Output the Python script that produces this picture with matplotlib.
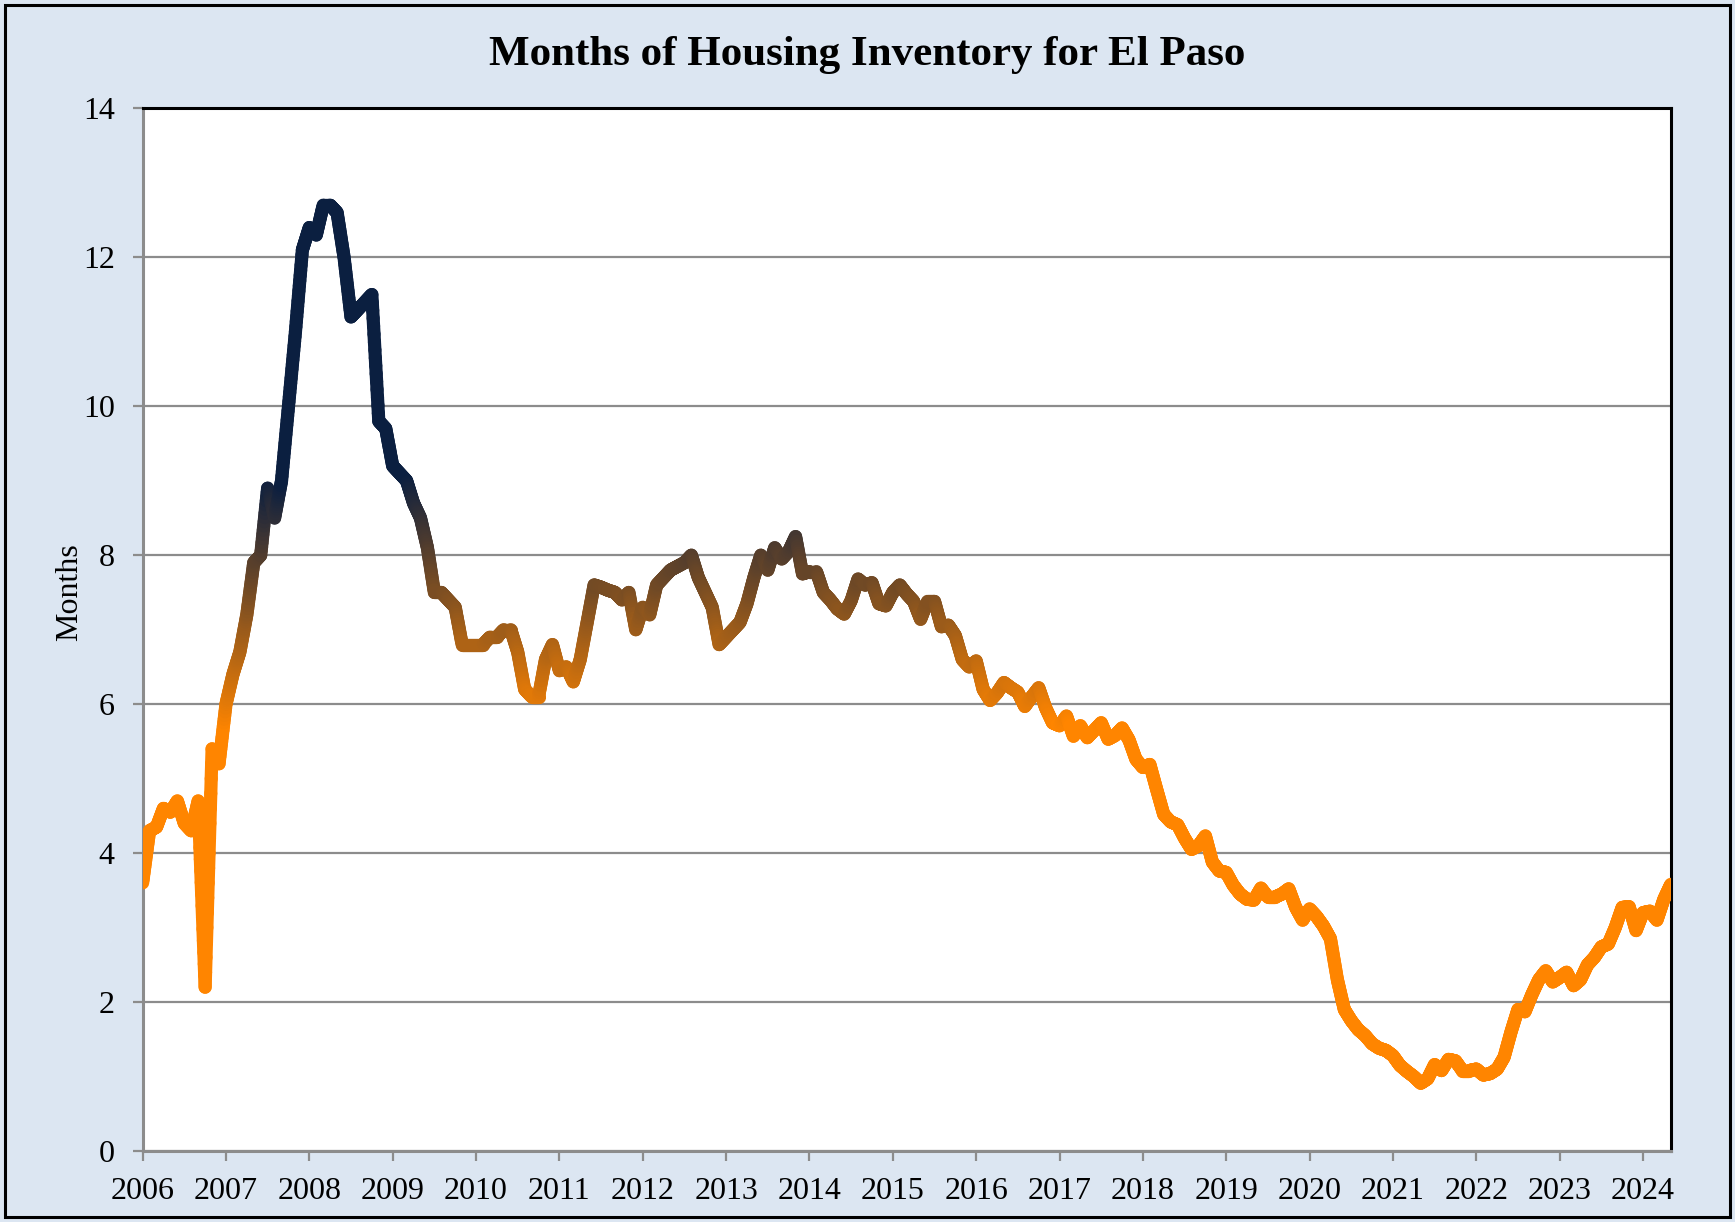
import numpy as np
import matplotlib
matplotlib.use('Agg')
import matplotlib.pyplot as plt
from matplotlib.collections import LineCollection
from matplotlib.colors import LinearSegmentedColormap, Normalize
from matplotlib.patches import Rectangle

# Monthly months-of-inventory, Jan 2006 .. May 2024
start_year = 2006
inventory = [
    3.6, 4.3, 4.35, 4.6, 4.55, 4.7, 4.4, 4.3, 4.7, 2.2, 5.4, 5.2,          # 2006
    6.0, 6.4, 6.7, 7.2, 7.9, 8.0, 8.9, 8.5, 9.0, 10.0, 11.0, 12.1,        # 2007
    12.4, 12.3, 12.7, 12.7, 12.6, 12.0, 11.2, 11.3, 11.4, 11.5, 9.8, 9.7,  # 2008
    9.2, 9.1, 9.0, 8.7, 8.5, 8.1, 7.5, 7.5, 7.4, 7.3, 6.8, 6.8,           # 2009
    6.8, 6.8, 6.9, 6.9, 7.0, 7.0, 6.7, 6.2, 6.1, 6.1, 6.6, 6.8,           # 2010
    6.45, 6.5, 6.3, 6.6, 7.1, 7.6, 7.57, 7.53, 7.5, 7.4, 7.5, 7.0,        # 2011
    7.3, 7.2, 7.6, 7.7, 7.8, 7.85, 7.9, 8.0, 7.7, 7.5, 7.3, 6.8,          # 2012
    6.9, 7.0, 7.1, 7.35, 7.7, 8.0, 7.8, 8.1, 7.95, 8.05, 8.25, 7.75,      # 2013
    7.78, 7.78, 7.5, 7.4, 7.28, 7.21, 7.39, 7.68, 7.6, 7.63, 7.35, 7.32,  # 2014
    7.5, 7.6, 7.48, 7.38, 7.14, 7.38, 7.38, 7.04, 7.06, 6.92, 6.6, 6.5,   # 2015
    6.58, 6.2, 6.05, 6.15, 6.29, 6.22, 6.16, 5.97, 6.1, 6.22, 5.95, 5.75, # 2016
    5.71, 5.84, 5.57, 5.71, 5.55, 5.65, 5.75, 5.53, 5.58, 5.68, 5.52, 5.26,  # 2017
    5.15, 5.19, 4.85, 4.52, 4.42, 4.38, 4.2, 4.05, 4.1, 4.23, 3.88, 3.76, # 2018
    3.74, 3.57, 3.45, 3.38, 3.37, 3.53, 3.41, 3.41, 3.45, 3.52, 3.27, 3.1,  # 2019
    3.25, 3.15, 3.02, 2.85, 2.3, 1.9, 1.75, 1.63, 1.55, 1.44, 1.38, 1.35, # 2020
    1.28, 1.15, 1.07, 1.0, 0.91, 0.97, 1.16, 1.08, 1.23, 1.21, 1.08, 1.08,  # 2021
    1.1, 1.02, 1.04, 1.1, 1.26, 1.6, 1.9, 1.87, 2.1, 2.3, 2.42, 2.27,     # 2022
    2.33, 2.4, 2.22, 2.3, 2.5, 2.6, 2.74, 2.78, 3.0, 3.27, 3.28, 2.96,    # 2023
    3.2, 3.22, 3.1, 3.38, 3.58,                                          # 2024
]
year_labels = [str(y) for y in range(2006, 2025)]
y_ticks = [0, 2, 4, 6, 8, 10, 12, 14]

plt.rcParams['font.family'] = ['Liberation Serif', 'DejaVu Serif']

vals = np.array(inventory)
x = start_year + np.arange(len(vals)) / 12.0

fig = plt.figure(figsize=(17.35, 12.22), dpi=100)
fig.patch.set_facecolor('#DCE6F2')
fig.patches.append(Rectangle((0.003, 0.004), 0.994, 0.992, transform=fig.transFigure,
                             fill=False, edgecolor='black', linewidth=2.2, zorder=0))

ax = fig.add_axes([0.0822, 0.0581, 0.963 - 0.0822, 0.9113 - 0.0581])
ax.set_facecolor('white')

# split each segment into small pieces so the colour follows the value smoothly
n_sub = 16
xs, ys = [], []
for k in range(len(vals) - 1):
    t = np.linspace(0, 1, n_sub, endpoint=False)
    xs.append(x[k] + (x[k + 1] - x[k]) * t)
    ys.append(vals[k] + (vals[k + 1] - vals[k]) * t)
xs.append([x[-1]])
ys.append([vals[-1]])
xs = np.concatenate(xs)
ys = np.concatenate(ys)
pts = np.column_stack([xs, ys]).reshape(-1, 1, 2)
segs = np.concatenate([pts[:-1], pts[1:]], axis=1)
mid = (ys[:-1] + ys[1:]) / 2

cmap = LinearSegmentedColormap.from_list('inv', ['#FF8500', '#0B1F40'])
lc = LineCollection(segs, cmap=cmap, norm=Normalize(5.7, 9.0, clip=True),
                    linewidth=9.5, capstyle='round', joinstyle='round', zorder=3)
lc.set_array(mid)
ax.add_collection(lc)

ax.set_xlim(x[0], x[-1])
ax.set_ylim(0, 14)
ax.set_yticks(y_ticks)
ax.set_xticks(range(2006, 2025))
ax.set_xticklabels(year_labels)
ax.grid(axis='y', color='#8C8C8C', linewidth=1.6, zorder=1)
ax.set_axisbelow(True)

for side in ['left', 'bottom']:
    ax.spines[side].set_color('#8C8C8C')
    ax.spines[side].set_linewidth(2.2)
for side in ['top', 'right']:
    ax.spines[side].set_color('black')
    ax.spines[side].set_linewidth(2.2)

ax.tick_params(axis='both', direction='out', length=7, width=1.6, color='#8C8C8C',
               labelsize=23)
ax.tick_params(axis='y', pad=13)
ax.tick_params(axis='x', pad=12)
ax.set_ylabel('Months', fontsize=23, va='center')
ax.yaxis.set_label_coords(-0.0476, 0.536)

fig.text(0.5, 0.955, 'Months of Housing Inventory for El Paso', ha='center', va='center',
         fontsize=31, fontweight='bold')

fig.savefig('out.png', dpi=100, facecolor=fig.get_facecolor())
